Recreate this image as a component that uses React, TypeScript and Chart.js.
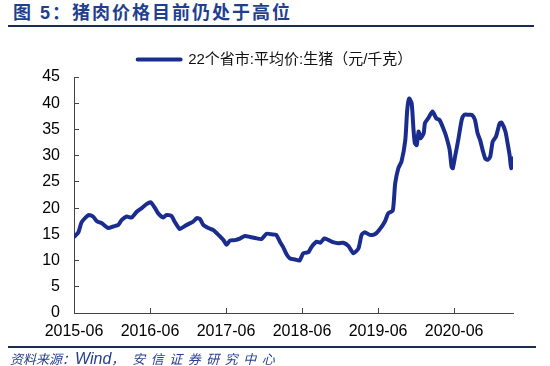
import React, { useEffect, useRef } from "react";
import { Chart, registerables } from "chart.js";

Chart.register(...registerables);

const titleText = "图 5：猪肉价格目前仍处于高位";
const seriesLabel = "22个省市:平均价:生猪（元/千克）";
const xTickLabels = ["2015-06", "2016-06", "2017-06", "2018-06", "2019-06", "2020-06"];
const yTicks = [0, 5, 10, 15, 20, 25, 30, 35, 40, 45];

// months elapsed since 2015-06
const monthOffsets = [
  0, 0.7, 1.2, 2.3, 3.0, 3.6, 4.4, 5.4, 6.2, 7.0, 7.5, 8.3, 9.1, 9.9, 10.7, 11.5,
  12.1, 12.8, 13.3, 14.1, 14.6, 15.4, 15.9, 16.7, 17.5, 18.3, 18.8, 19.4, 19.9, 20.4,
  21.2, 22.0, 22.8, 23.6, 24.1, 24.6, 25.4, 26.2, 27.0, 27.8, 28.6, 29.6, 30.4, 31.2,
  31.9, 32.5, 33.0, 33.6, 34.1, 34.9, 35.6, 36.2, 37.0, 37.5, 38.3, 38.9, 39.5, 40.2,
  40.9, 41.7, 42.5, 43.3, 44.1, 44.9, 45.4, 45.9, 46.7, 47.5, 48.3, 49.1, 49.6, 50.3,
  50.5, 50.7, 51.2, 51.7, 52.3, 52.6, 52.9, 53.3, 53.6, 53.8, 54.1, 54.4, 54.7, 55.2,
  55.4, 55.9, 56.6, 57.2, 57.7, 58.3, 58.7, 59.3, 59.6, 59.8, 60.2, 60.7, 61.2, 61.6,
  62.3, 62.8, 63.3, 63.7, 64.1, 64.5, 64.9, 65.3, 65.7, 66.1, 66.6, 67.2, 67.5, 68.1,
  68.5, 68.8, 69.0, 69.3,
];

const prices = [
  14.5, 15.4, 17.3, 18.7, 18.4, 17.5, 17.1, 16.2, 16.5, 16.8, 17.7, 18.4, 18.2, 19.3, 20.0, 20.8,
  21.1, 20.0, 19.0, 18.2, 18.7, 18.5, 17.4, 16.0, 16.6, 17.1, 17.4, 18.1, 17.9, 16.8,
  16.2, 15.8, 14.9, 13.9, 13.0, 13.8, 13.9, 14.2, 14.7, 14.5, 14.3, 14.1, 15.1, 15.0,
  14.9, 13.6, 12.6, 11.1, 10.4, 10.2, 10.0, 11.4, 11.6, 12.6, 13.6, 13.4, 14.2, 13.9,
  13.5, 13.3, 13.4, 12.8, 11.4, 12.3, 14.9, 15.4, 14.9, 15.0, 16.0, 17.5, 19.0, 19.5,
  21.5, 24.7, 27.6, 28.9, 33.0, 38.7, 40.9, 40.0, 34.9, 32.4, 32.0, 34.6, 33.3, 34.3,
  36.2, 37.1, 38.4, 37.1, 36.8, 35.2, 33.9, 31.1, 27.9, 27.6, 30.1, 33.3, 36.8, 37.8,
  37.8, 37.8, 36.8, 34.3, 33.0, 31.1, 29.5, 29.2, 29.8, 32.7, 33.6, 36.2, 36.3, 34.6,
  32.0, 29.8, 27.6, 29.5,
];

const LINE_COLOR = "#1a2d8f";
const AXIS_COLOR = "#444444";
const LATIN = '"Liberation Sans", Arial, "Noto Sans CJK SC", sans-serif';
const CJK = '"Liberation Sans", "Noto Sans CJK SC", sans-serif';

export default function App() {
  const canvasRef = useRef<HTMLCanvasElement | null>(null);

  useEffect(() => {
    const canvas = canvasRef.current;
    if (!canvas) return;
    const points = monthOffsets.map((m, i) => ({ x: m, y: prices[i] }));
    const chart = new Chart(canvas, {
      type: "line",
      data: {
        datasets: [
          {
            label: seriesLabel,
            data: points,
            borderColor: LINE_COLOR,
            backgroundColor: LINE_COLOR,
            borderWidth: 4,
            pointRadius: 0,
            tension: 0.2,
            borderJoinStyle: "round",
            borderCapStyle: "round",
          },
        ],
      },
      options: {
        animation: false,
        responsive: false,
        maintainAspectRatio: false,
        devicePixelRatio: 1,
        layout: { padding: { top: 42, left: 37, right: 37, bottom: 0 } },
        plugins: {
          legend: {
            display: true,
            position: "top",
            align: "center",
            labels: {
              boxWidth: 43,
              boxHeight: 0,
              padding: 10,
              color: "#111111",
              font: { size: 15, family: CJK },
            },
          },
          tooltip: { enabled: false },
        },
        scales: {
          x: {
            type: "linear",
            min: 0,
            max: monthOffsets[monthOffsets.length - 1],
            afterFit: (s: any) => {
              s.height = 53;
            },
            ticks: {
              stepSize: 12,
              autoSkip: false,
              maxRotation: 0,
              padding: 14,
              color: "#000000",
              font: { size: 16, family: LATIN },
              callback: (v: any) => {
                const k = Number(v) / 12;
                if (Math.abs(k - Math.round(k)) < 1e-6) {
                  const lbl = xTickLabels[Math.round(k)];
                  return lbl === undefined ? null : lbl;
                }
                return null;
              },
            },
            grid: {
              display: true,
              drawOnChartArea: false,
              drawTicks: true,
              tickLength: -5,
              color: AXIS_COLOR,
            },
            border: { display: true, color: AXIS_COLOR, width: 1 },
          },
          y: {
            type: "linear",
            min: yTicks[0],
            max: yTicks[yTicks.length - 1],
            afterFit: (s: any) => {
              s.width = 37;
            },
            ticks: {
              stepSize: yTicks[1] - yTicks[0],
              padding: 19,
              color: "#000000",
              font: { size: 16, family: LATIN },
            },
            grid: {
              display: true,
              drawOnChartArea: false,
              drawTicks: true,
              tickLength: -5,
              color: AXIS_COLOR,
            },
            border: { display: true, color: AXIS_COLOR, width: 1 },
          },
        },
      },
    });
    return () => chart.destroy();
  }, []);

  return (
    <div
      style={{
        position: "fixed",
        left: 0,
        top: 0,
        width: 550,
        height: 366,
        background: "#ffffff",
        overflow: "hidden",
      }}
    >
      <div
        style={{
          position: "absolute",
          left: 13,
          top: 4,
          lineHeight: "19px",
          fontSize: 18,
          fontWeight: "bold",
          letterSpacing: "2px",
          color: "#1f3f8f",
          fontFamily: CJK,
          whiteSpace: "nowrap",
        }}
      >
        {titleText}
      </div>
      <div
        style={{
          position: "absolute",
          left: 8,
          top: 25,
          width: 526,
          height: 2,
          background: "#1c2b50",
        }}
      />
      <canvas
        ref={canvasRef}
        width={550}
        height={366}
        style={{ position: "absolute", left: 0, top: 0, width: 550, height: 366 }}
      />
      <div
        style={{
          position: "absolute",
          left: 8,
          top: 346,
          width: 528,
          height: 2,
          background: "#1c2b50",
        }}
      />
      <div
        style={{
          position: "absolute",
          left: 10,
          top: 351,
          lineHeight: "16px",
          fontSize: 13,
          fontStyle: "italic",
          color: "#243f8f",
          fontFamily: CJK,
          whiteSpace: "nowrap",
        }}
      >
        <span>资料来源：</span>
        <span style={{ fontSize: 16 }}>Wind</span>
        <span style={{ marginRight: 8 }}>，</span>
        <span style={{ letterSpacing: "5.5px" }}>安信证券研究中心</span>
      </div>
    </div>
  );
}
